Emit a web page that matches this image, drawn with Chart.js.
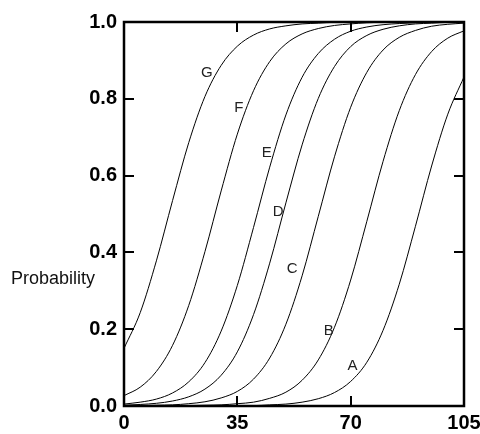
<!DOCTYPE html>
<html lang="en">
<head>
    <meta charset="UTF-8">
    <title>Probability Curves</title>
    <script src="https://cdn.jsdelivr.net/npm/chart.js"></script>
    <style>
        body {
            margin: 0;
            padding: 0;
            background: #ffffff;
        }
        .chart-box {
            width: 480px;
            height: 434px;
        }
    </style>
</head>
<body>
    <div class="chart-box">
        <canvas id="probChart" width="480" height="434"></canvas>
    </div>

    <script>
        // sample positions along the x axis
        const xValues = [0, 5, 10, 15, 20, 25, 30, 35, 40, 45, 50, 55, 60, 65, 70, 75, 80, 85, 90, 95, 100, 105];

        // probability curves, left to right
        const curveG = [0.150, 0.243, 0.378, 0.535, 0.686, 0.806, 0.887, 0.937, 0.966, 0.982, 0.990, 0.995, 0.997, 0.999, 0.999, 1.000, 1.000, 1.000, 1.000, 1.000, 1.000, 1.000];
        const curveF = [0.027, 0.049, 0.090, 0.158, 0.262, 0.402, 0.560, 0.708, 0.821, 0.897, 0.943, 0.969, 0.983, 0.991, 0.995, 0.998, 0.999, 0.999, 1.000, 1.000, 1.000, 1.000];
        const curveE = [0.005, 0.010, 0.018, 0.034, 0.063, 0.113, 0.195, 0.314, 0.465, 0.622, 0.758, 0.856, 0.918, 0.955, 0.976, 0.987, 0.993, 0.996, 0.998, 0.999, 1.000, 1.000];
        const curveD = [0.002, 0.004, 0.007, 0.013, 0.024, 0.044, 0.080, 0.141, 0.238, 0.372, 0.529, 0.680, 0.801, 0.884, 0.936, 0.965, 0.981, 0.990, 0.995, 0.997, 0.999, 0.999];
        const curveC = [0.000, 0.001, 0.002, 0.003, 0.006, 0.011, 0.021, 0.038, 0.070, 0.125, 0.213, 0.339, 0.494, 0.649, 0.778, 0.869, 0.927, 0.960, 0.978, 0.989, 0.994, 0.997];
        const curveB = [0.000, 0.000, 0.000, 0.000, 0.001, 0.002, 0.003, 0.006, 0.010, 0.020, 0.036, 0.067, 0.120, 0.205, 0.328, 0.481, 0.637, 0.769, 0.863, 0.923, 0.958, 0.977];
        const curveA = [0.000, 0.000, 0.000, 0.000, 0.000, 0.000, 0.000, 0.001, 0.001, 0.003, 0.005, 0.010, 0.019, 0.035, 0.064, 0.114, 0.197, 0.317, 0.468, 0.625, 0.760, 0.857];

        const curveNames = ['G', 'F', 'E', 'D', 'C', 'B', 'A'];
        const curveSeries = [curveG, curveF, curveE, curveD, curveC, curveB, curveA];

        // where each curve's letter sits (x, probability)
        const labelX = [25.6, 35.5, 44.1, 47.6, 51.9, 63.2, 70.6];
        const labelY = [0.868, 0.776, 0.659, 0.506, 0.358, 0.195, 0.105];

        const xTicks = [0, 35, 70, 105];
        const yTicks = [0, 0.2, 0.4, 0.6, 0.8, 1.0];

        const datasets = curveSeries.map((values, i) => ({
            label: curveNames[i],
            data: xValues.map((x, j) => ({ x: x, y: values[j] })),
            borderColor: '#000000',
            borderWidth: 1,
            pointRadius: 0,
            fill: false,
            cubicInterpolationMode: 'monotone'
        }));

        // box frame with inward ticks, curve letters and the side label
        const framePlugin = {
            id: 'frame',
            afterDraw(chart) {
                const ctx = chart.ctx;
                const area = chart.chartArea;
                const xs = chart.scales.x;
                const ys = chart.scales.y;
                const tick = 10;

                ctx.save();
                ctx.strokeStyle = '#000000';
                ctx.lineWidth = 2.5;
                ctx.strokeRect(area.left, area.top, area.right - area.left, area.bottom - area.top);

                ctx.lineWidth = 2;
                ctx.beginPath();
                xTicks.slice(1, -1).forEach(v => {
                    const px = Math.round(xs.getPixelForValue(v));
                    ctx.moveTo(px, area.bottom);
                    ctx.lineTo(px, area.bottom - tick);
                    ctx.moveTo(px, area.top);
                    ctx.lineTo(px, area.top + tick);
                });
                yTicks.slice(1, -1).forEach(v => {
                    const py = Math.round(ys.getPixelForValue(v));
                    ctx.moveTo(area.left, py);
                    ctx.lineTo(area.left + tick, py);
                    ctx.moveTo(area.right, py);
                    ctx.lineTo(area.right - tick, py);
                });
                ctx.stroke();

                ctx.fillStyle = '#222222';
                ctx.font = '15px "Liberation Sans", Arial, sans-serif';
                ctx.textAlign = 'center';
                ctx.textBaseline = 'middle';
                curveNames.forEach((name, i) => {
                    ctx.fillText(name, xs.getPixelForValue(labelX[i]), ys.getPixelForValue(labelY[i]));
                });

                ctx.fillStyle = '#111111';
                ctx.font = '18px "Liberation Sans", Arial, sans-serif';
                ctx.textAlign = 'left';
                ctx.fillText('Probability', 11, 279);
                ctx.restore();
            }
        };

        const tickFont = { family: '"Liberation Sans", Arial, sans-serif', size: 20, weight: 'bold' };

        new Chart(document.getElementById('probChart').getContext('2d'), {
            type: 'line',
            data: { datasets: datasets },
            options: {
                responsive: false,
                animation: false,
                layout: { padding: { left: 0, right: 16, top: 22, bottom: 0 } },
                plugins: {
                    legend: { display: false },
                    tooltip: { enabled: false }
                },
                scales: {
                    x: {
                        type: 'linear',
                        min: 0,
                        max: 105,
                        afterBuildTicks: scale => { scale.ticks = xTicks.map(v => ({ value: v })); },
                        afterFit: scale => {
                            scale.height = 28;
                            scale.paddingLeft = 0;
                            scale.paddingRight = 0;
                        },
                        grid: { display: false, drawTicks: false },
                        border: { display: false },
                        ticks: { color: '#000000', font: tickFont, padding: 5, maxRotation: 0 }
                    },
                    y: {
                        type: 'linear',
                        min: 0,
                        max: 1,
                        afterBuildTicks: scale => { scale.ticks = yTicks.map(v => ({ value: v })); },
                        afterFit: scale => {
                            scale.width = 124;
                            scale.paddingTop = 0;
                            scale.paddingBottom = 0;
                        },
                        grid: { display: false, drawTicks: false },
                        border: { display: false },
                        ticks: {
                            color: '#000000',
                            font: tickFont,
                            padding: 7,
                            callback: v => v.toFixed(1)
                        }
                    }
                }
            },
            plugins: [framePlugin]
        });
    </script>
</body>
</html>
